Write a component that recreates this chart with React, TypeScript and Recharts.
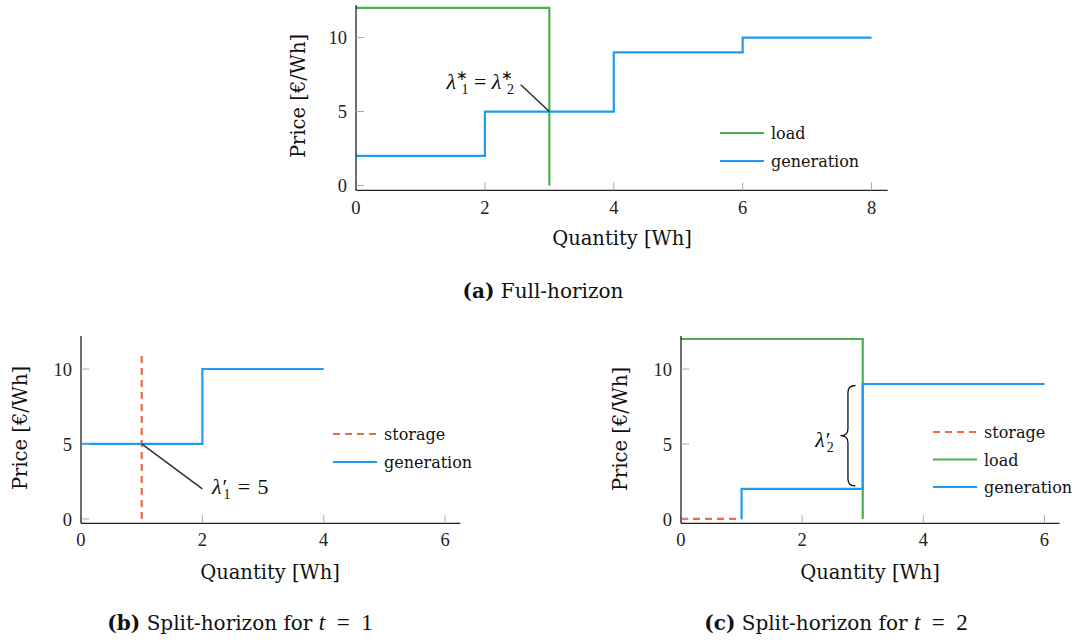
import React from "react";
import {
  ComposedChart,
  Line,
  XAxis,
  YAxis,
  ReferenceLine,
  ReferenceDot,
} from "recharts";

// colours as in the figure
const BLUE = "#1f9cf0";
const GREEN = "#4caf50";
const ORANGE = "#ec6b40";
const INK = "#222";
const TEXT_FONT = "'DejaVu Serif', serif";
const NUM_FONT = "'Liberation Serif', serif";

// (a) full horizon
const fullLoad = [
  { x: 0, y: 12 },
  { x: 3, y: 0 },
];
const fullGeneration = [
  { x: 0, y: 2 },
  { x: 2, y: 5 },
  { x: 4, y: 9 },
  { x: 6, y: 10 },
  { x: 8, y: 10 },
];
const fullXTicks = [0, 2, 4, 6, 8];
const fullPointer = [
  { x: 3, y: 5 },
  { x: 2.556, y: 6.81 },
];
const fullLabelAt = { x: 2.45, y: 6.5 };

// (b) split horizon, t = 1
const t1Storage = [
  { x: 1, y: 0 },
  { x: 1, y: 11 },
];
const t1Generation = [
  { x: 0, y: 5 },
  { x: 2, y: 10 },
  { x: 4, y: 10 },
];
const t1Pointer = [
  { x: 1, y: 5 },
  { x: 2, y: 2 },
];
const t1LabelAt = { x: 2.16, y: 1.66 };

// (c) split horizon, t = 2
const t2Storage = [
  { x: 0, y: 0 },
  { x: 1, y: 0 },
];
const t2Load = [
  { x: 0, y: 12 },
  { x: 3, y: 0 },
];
const t2Generation = [
  { x: 1, y: 0 },
  { x: 1, y: 2 },
  { x: 3, y: 9 },
  { x: 6, y: 9 },
];
const t2Brace = [
  { x: 2.88, y: 8.9 },
  { x: 2.88, y: 2.2 },
];
const t2LabelAt = { x: 2.52, y: 4.82 };

const splitXTicks = [0, 2, 4, 6];
const yTicks = [0, 5, 10];

const tickStyle = { fontSize: 18.5, fill: INK, fontFamily: NUM_FONT };

type Box = { x0: number; x1: number; y0: number; y1: number };

function Panel({
  box,
  xDomain,
  yDomain,
  xTicks,
  children,
}: {
  box: Box;
  xDomain: [number, number];
  yDomain: [number, number];
  xTicks: number[];
  children: React.ReactNode;
}) {
  const w = box.x1 - box.x0 + 70;
  const h = box.y1 - box.y0 + 50;
  return (
    <div style={{ position: "absolute", left: box.x0 - 60, top: box.y0 - 10 }}>
      <ComposedChart
        width={w}
        height={h}
        margin={{ top: 10, right: 10, left: 0, bottom: 0 }}
      >
        <XAxis
          type="number"
          dataKey="x"
          domain={xDomain}
          ticks={xTicks}
          height={40}
          tickSize={-8}
          tickMargin={18}
          tick={tickStyle}
          tickLine={{ stroke: "#aaa", strokeWidth: 1 }}
          axisLine={{ stroke: INK, strokeWidth: 1.3 }}
          allowDataOverflow
        />
        <YAxis
          type="number"
          dataKey="y"
          domain={yDomain}
          ticks={yTicks}
          width={60}
          tickSize={-8}
          tickMargin={17}
          tick={tickStyle}
          tickLine={{ stroke: "#aaa", strokeWidth: 1 }}
          axisLine={{ stroke: INK, strokeWidth: 1.3 }}
          allowDataOverflow
        />
        {children}
      </ComposedChart>
    </div>
  );
}

function series(
  data: { x: number; y: number }[],
  color: string,
  step: boolean,
  dashed?: boolean
) {
  return (
    <Line
      data={data}
      dataKey="y"
      type={step ? "stepAfter" : "linear"}
      stroke={color}
      strokeWidth={2.2}
      strokeDasharray={dashed ? "7 5" : undefined}
      dot={false}
      activeDot={false}
      isAnimationActive={false}
      legendType="none"
    />
  );
}

function Brace(props: any) {
  const { x1, y1, y2 } = props;
  const top = Math.min(y1, y2);
  const bot = Math.max(y1, y2);
  const xr = x1;
  const w = 15;
  const xs = xr - w / 2;
  const xt = xr - w;
  const mid = (top + bot) / 2;
  const r = 7;
  const d = `M${xr},${top} Q${xs},${top} ${xs},${top + r} L${xs},${mid - r} Q${xs},${mid} ${xt},${mid} Q${xs},${mid} ${xs},${mid + r} L${xs},${bot - r} Q${xs},${bot} ${xr},${bot}`;
  return <path d={d} fill="none" stroke="#111" strokeWidth={1.3} />;
}

// λ with a star (small, raised) or a prime, and a subscript below it
function lambda(mark: "star" | "prime", sub: string, tail: string) {
  const star = mark === "star";
  return [
    <tspan key="l" fontStyle="italic">
      λ
    </tspan>,
    star ? (
      <tspan key="s" fontSize={14} dy={-9}>
        ∗
      </tspan>
    ) : (
      <tspan key="s" dx={1}>
        ′
      </tspan>
    ),
    <tspan
      key="b"
      fontSize={14}
      dx={star ? -6.5 : -4}
      dy={star ? 14 : 5}
    >
      {sub}
    </tspan>,
    tail ? (
      <tspan key="t" dy={-5}>
        {tail}
      </tspan>
    ) : null,
  ];
}

const mathText = (anchor: "start" | "end", build: () => React.ReactNode) =>
  (p: any) => (
    <text
      x={p.cx}
      y={p.cy}
      textAnchor={anchor}
      fontFamily={NUM_FONT}
      fontSize={22}
      fill="#111"
    >
      {build()}
    </text>
  );

const legendA = [
  { name: "load", color: GREEN, dashed: false },
  { name: "generation", color: BLUE, dashed: false },
];
const legendB = [
  { name: "storage", color: ORANGE, dashed: true },
  { name: "generation", color: BLUE, dashed: false },
];
const legendC = [
  { name: "storage", color: ORANGE, dashed: true },
  { name: "load", color: GREEN, dashed: false },
  { name: "generation", color: BLUE, dashed: false },
];

function LegendRows({
  items,
  x,
  y,
  gap,
}: {
  items: { name: string; color: string; dashed: boolean }[];
  x: number;
  y: number;
  gap: number;
}) {
  return (
    <g>
      {items.map((it, i) => (
        <g key={it.name}>
          <line
            x1={x - 51}
            x2={x - 7}
            y1={y + i * gap}
            y2={y + i * gap}
            stroke={it.color}
            strokeWidth={2.2}
            strokeDasharray={it.dashed ? "7 5" : undefined}
          />
          <text
            x={x}
            y={y + i * gap + 6}
            fontFamily={TEXT_FONT}
            fontSize={16}
            fill="#111"
          >
            {it.name}
          </text>
        </g>
      ))}
    </g>
  );
}

function Caption({ x, y, tag, children }: { x: number; y: number; tag: string; children: React.ReactNode }) {
  return (
    <text x={x} y={y} textAnchor="middle" fontFamily={TEXT_FONT} fontSize={20} fill="#111">
      <tspan fontWeight="bold">{tag}</tspan> {children}
    </text>
  );
}

export default function App() {
  const boxA = { x0: 356, x1: 887.7, y0: 4.6, y1: 190 };
  const boxB = { x0: 80.7, x1: 460, y0: 336, y1: 523.3 };
  const boxC = { x0: 680.7, x1: 1059.3, y0: 336, y1: 523.3 };

  return (
    <div
      style={{
        position: "absolute",
        left: 0,
        top: 0,
        width: 1080,
        height: 643,
        background: "#fff",
      }}
    >
      <Panel box={boxA} xDomain={[0, 8.25]} yDomain={[-0.33, 12.2]} xTicks={fullXTicks}>
        {series(fullLoad, GREEN, true)}
        {series(fullGeneration, BLUE, true)}
        <ReferenceLine segment={fullPointer} stroke="#333" strokeWidth={1.6} />
        <ReferenceDot
          x={fullLabelAt.x}
          y={fullLabelAt.y}
          r={0}
          shape={mathText("end", () => [
            ...lambda("star", "1", "\u2005=\u2005"),
            ...lambda("star", "2", ""),
          ])}
        />
      </Panel>

      <Panel box={boxB} xDomain={[0, 6.25]} yDomain={[-0.29, 12.2]} xTicks={splitXTicks}>
        {series(t1Storage, ORANGE, false, true)}
        {series(t1Generation, BLUE, true)}
        <ReferenceLine segment={t1Pointer} stroke="#333" strokeWidth={1.6} />
        <ReferenceDot
          x={t1LabelAt.x}
          y={t1LabelAt.y}
          r={0}
          shape={mathText("start", () => lambda("prime", "1", "\u2004=\u20045"))}
        />
      </Panel>

      <Panel box={boxC} xDomain={[0, 6.25]} yDomain={[-0.29, 12.2]} xTicks={splitXTicks}>
        {series(t2Storage, ORANGE, false, true)}
        {series(t2Load, GREEN, true)}
        {series(t2Generation, BLUE, true)}
        <ReferenceLine segment={t2Brace} shape={Brace} />
        <ReferenceDot
          x={t2LabelAt.x}
          y={t2LabelAt.y}
          r={0}
          shape={mathText("end", () => lambda("prime", "2", ""))}
        />
      </Panel>

      <svg
        width={1080}
        height={643}
        style={{ position: "absolute", left: 0, top: 0, pointerEvents: "none" }}
      >
        <LegendRows items={legendA} x={771} y={133} gap={28} />
        <LegendRows items={legendB} x={384} y={434} gap={28} />
        <LegendRows items={legendC} x={984} y={432} gap={27.5} />

        <g fontFamily={TEXT_FONT} fontSize={19.5} fill="#111" textAnchor="middle">
          <text x={622} y={245}>Quantity [Wh]</text>
          <text x={270} y={579}>Quantity [Wh]</text>
          <text x={870} y={579}>Quantity [Wh]</text>
          <text transform="translate(305,96) rotate(-90)">Price [€/Wh]</text>
          <text transform="translate(27,428) rotate(-90)">Price [€/Wh]</text>
          <text transform="translate(627,429) rotate(-90)">Price [€/Wh]</text>
        </g>

        <Caption x={543} y={298} tag="(a)">Full-horizon</Caption>
        <Caption x={240} y={630} tag="(b)">
          Split-horizon for <tspan fontFamily={NUM_FONT} fontStyle="italic" fontSize={23}>t</tspan>
          <tspan fontFamily={NUM_FONT} fontSize={23}>{"\u2002=\u20021"}</tspan>
        </Caption>
        <Caption x={836} y={630} tag="(c)">
          Split-horizon for <tspan fontFamily={NUM_FONT} fontStyle="italic" fontSize={23}>t</tspan>
          <tspan fontFamily={NUM_FONT} fontSize={23}>{"\u2002=\u20022"}</tspan>
        </Caption>
      </svg>
    </div>
  );
}
